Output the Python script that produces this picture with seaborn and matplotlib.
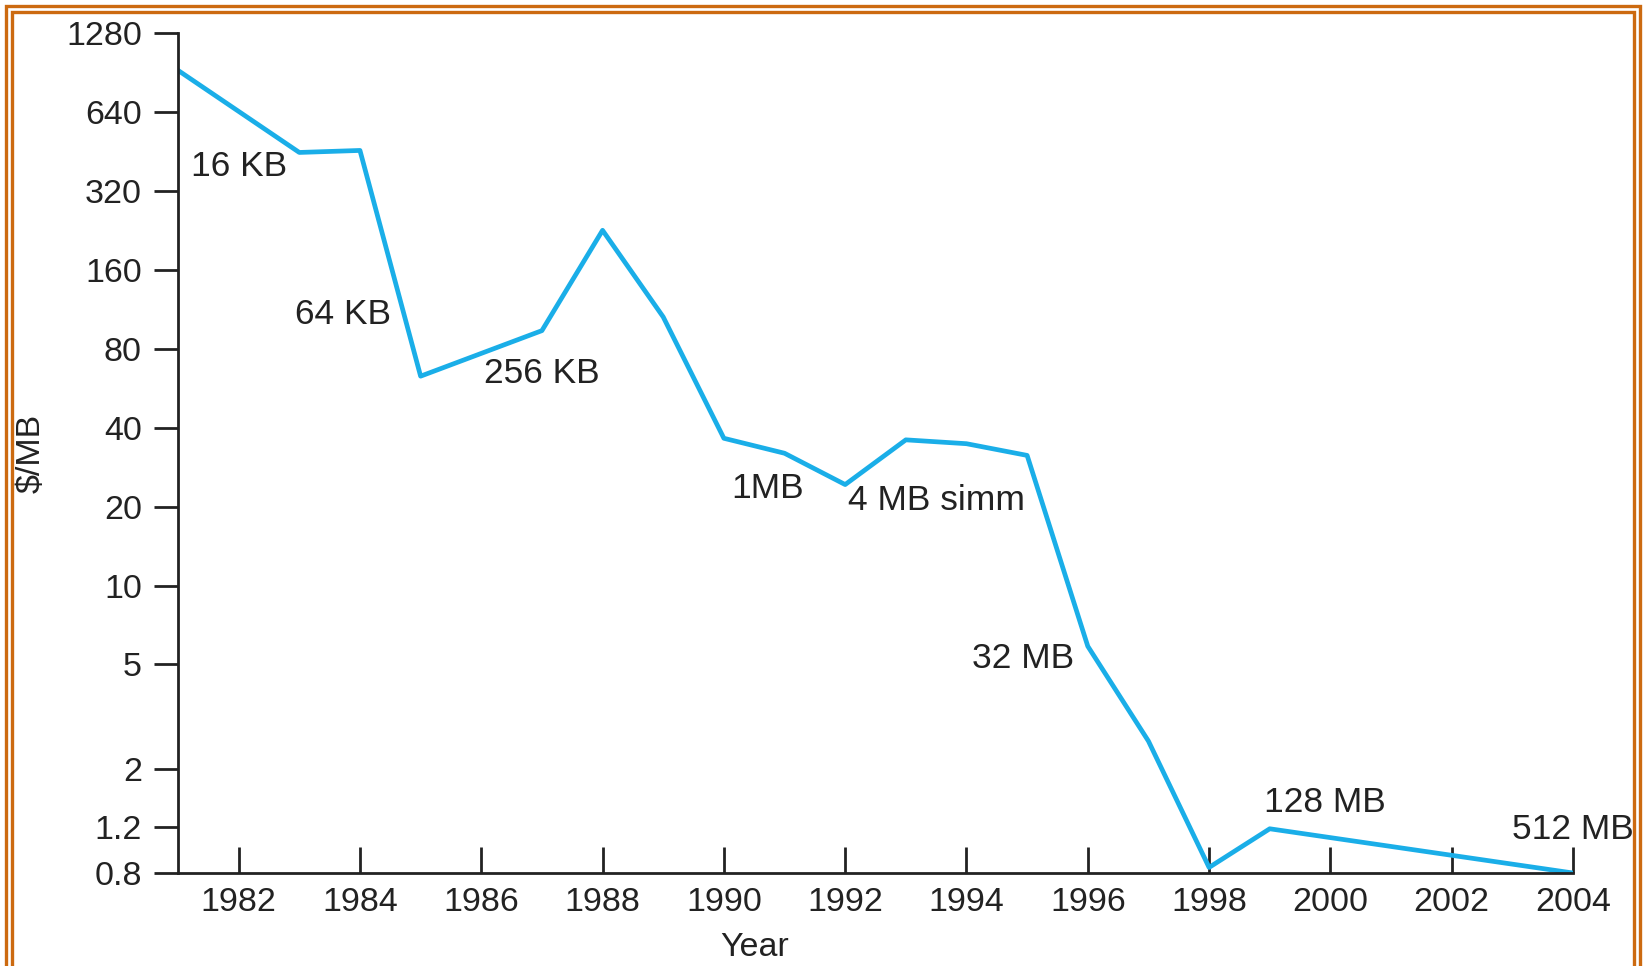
import pandas as pd
import seaborn as sns
from matplotlib import pyplot as plt
from matplotlib.patches import Rectangle
from matplotlib.ticker import FixedLocator, NullLocator

# Prezzo della DRAM ($/MB) per anno
years = [1981, 1983, 1984, 1985, 1987, 1988, 1989, 1990, 1991, 1992,
         1993, 1994, 1995, 1996, 1997, 1998, 1999, 2004]
price = [926, 450, 458, 63, 94, 227, 106, 36.5, 32, 24.3,
         36, 34.8, 31.4, 5.87, 2.55, 0.84, 1.18, 0.80]

y_ticks = [0.8, 1.2, 2, 5, 10, 20, 40, 80, 160, 320, 640, 1280]
y_tick_labels = ["0.8", "1.2", "2", "5", "10", "20", "40", "80", "160", "320", "640", "1280"]
x_ticks = [1982, 1984, 1986, 1988, 1990, 1992, 1994, 1996, 1998, 2000, 2002, 2004]

chip_labels = ["16 KB", "64 KB", "256 KB", "1MB", "4 MB simm", "32 MB", "128 MB", "512 MB"]
chip_x = [1982.0, 1983.72, 1987.0, 1990.72, 1993.51, 1994.93, 1999.91, 2004.0]
chip_y = [396, 108.5, 64.7, 23.4, 21.2, 5.29, 1.49, 1.17]

df = pd.DataFrame({"Year": years, "$/MB": price})

sns.set_style("ticks")
plt.rcParams["font.family"] = ["Liberation Sans", "DejaVu Sans"]

fig = plt.figure(figsize=(16.46, 9.66), dpi=100)
ax = fig.add_axes([178 / 1646, 1 - 873 / 966, (1573 - 178) / 1646, (873 - 33.5) / 966])

sns.lineplot(data=df, x="Year", y="$/MB", ax=ax, color="#1AAEE8", linewidth=3.4)

ax.set_yscale("log")
ax.set_ylim(0.8, 1280)
ax.set_xlim(1981, 2004)
ax.yaxis.set_major_locator(FixedLocator(y_ticks))
ax.set_yticklabels(y_tick_labels)
ax.yaxis.set_minor_locator(NullLocator())
ax.set_xticks(x_ticks)

ax.tick_params(axis="y", direction="out", length=17, width=2, pad=9,
               labelsize=24.5, colors="#222222")
ax.tick_params(axis="x", direction="in", length=19, width=2, pad=10,
               labelsize=24.5, colors="#222222")

for side in ["top", "right"]:
    ax.spines[side].set_visible(False)
for side in ["left", "bottom"]:
    ax.spines[side].set_linewidth(2)
    ax.spines[side].set_color("#222222")

ax.set_xlabel("Year", fontsize=24.5, color="#222222")
ax.set_ylabel(r"\$/MB", fontsize=24.5, color="#222222")
ax.xaxis.set_label_coords(0.413, -0.070)
ax.yaxis.set_label_coords(-0.094, 0.5)

for lab, x, y in zip(chip_labels, chip_x, chip_y):
    ax.text(x, y, lab, fontsize=25.5, color="#222222", ha="center", va="center")

# doppia cornice arancione
for inset, lw in [(6, 2.4), (12, 2.4)]:
    fig.patches.append(Rectangle((inset / 1646, -0.05), 1 - 2 * inset / 1646, 1.05 - inset / 966,
                                 transform=fig.transFigure, fill=False,
                                 edgecolor="#CC6A10", linewidth=lw))

fig.savefig("out.png", dpi=100)
